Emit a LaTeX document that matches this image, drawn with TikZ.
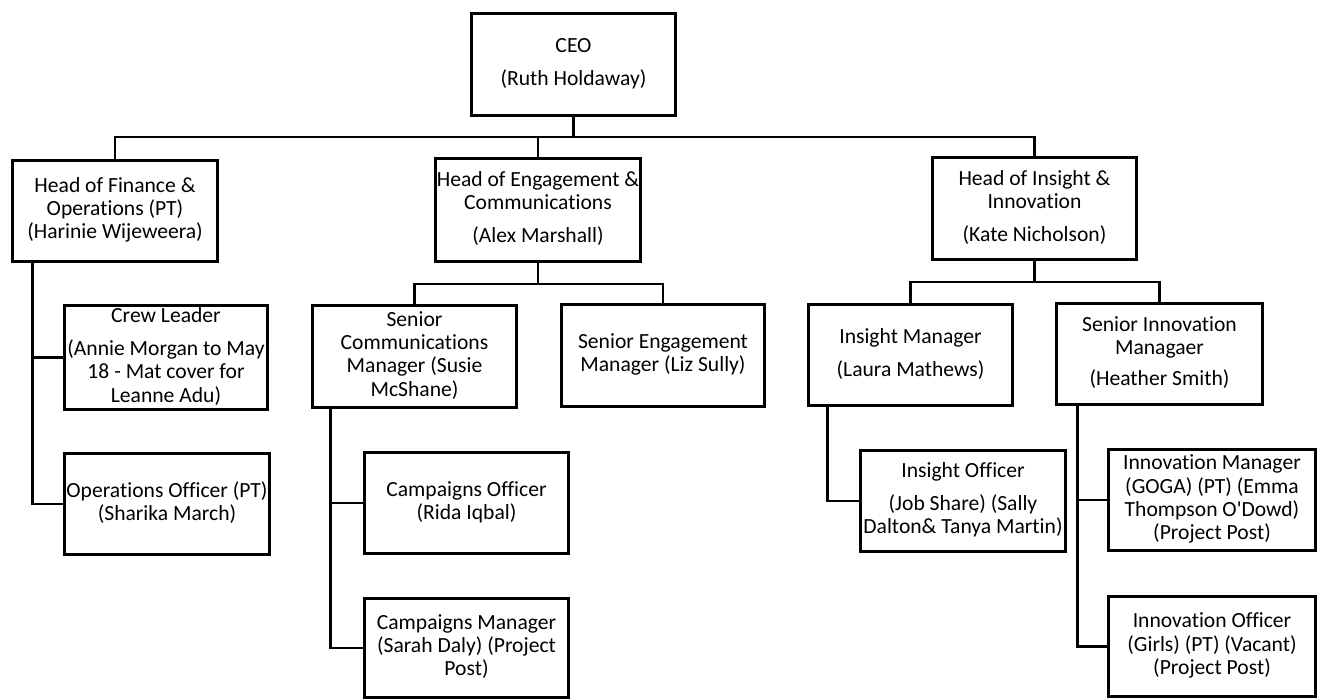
\documentclass[tikz,border=0pt]{standalone}
\usepackage{fontspec}
\setmainfont{Carlito}[Ligatures={NoCommon}]
\usetikzlibrary{calc}
\begin{document}
\begin{tikzpicture}[x=1pt,y=-1pt,
  box/.style={draw=black, line width=2.9pt, fill=white, inner sep=0pt, align=center,
    font=\fontsize{21.6}{23.3}\selectfont},
  conn/.style={draw=black, line width=2.9pt, line join=miter}]
\fill[white] (0,0) rectangle (1323,700);
\useasboundingbox (0,0) rectangle (1323,700);

% nodes
\node[box, minimum width=204.4pt, minimum height=102.4pt] (ceo) at (573.5,64.5)
  {\strut CEO\\[9.7pt]\strut (Ruth Holdaway)};
\node[box, minimum width=205.4pt, minimum height=101.4pt] (hfin) at (115,211)
  {\strut Head of Finance \&\\\strut Operations (PT)\\\strut (Harinie Wijeweera)};
\node[box, minimum width=205.4pt, minimum height=103.4pt] (heng) at (538,210)
  {\strut Head of Engagement \&\\\strut Communications\\[9.7pt]\strut (Alex Marshall)};
\node[box, minimum width=204.4pt, minimum height=102.4pt] (hins) at (1034.5,208.5)
  {\strut Head of Insight \&\\\strut Innovation\\[9.7pt]\strut (Kate Nicholson)};

\node[box, minimum width=203.4pt, minimum height=102.4pt] (crew) at (166,357.5)
  {\strut Crew Leader\\[10pt]\strut (Annie Morgan to May\\\strut 18 - Mat cover for\\\strut Leanne Adu)};
\node[box, minimum width=205.4pt, minimum height=101.4pt] (ops) at (167,504)
  {\strut Operations Officer (PT)\\\strut (Sharika March)};

\node[box, minimum width=204.4pt, minimum height=102.4pt] (scom) at (414.5,356.5)
  {\strut Senior\\\strut Communications\\\strut Manager (Susie\\\strut McShane)};
\node[box, minimum width=203.4pt, minimum height=102.4pt] (seng) at (663,355.5)
  {\strut Senior Engagement\\\strut Manager (Liz Sully)};
\node[box, minimum width=204.4pt, minimum height=101.4pt] (cof) at (466.5,503)
  {\strut Campaigns Officer\\\strut (Rida Iqbal)};
\node[box, minimum width=204.4pt, minimum height=98.4pt] (cman) at (466.5,648)
  {\strut Campaigns Manager\\\strut (Sarah Daly) (Project\\\strut Post)};

\node[box, minimum width=204.4pt, minimum height=101.4pt] (iman) at (910.5,355)
  {\strut Insight Manager\\[9.7pt]\strut (Laura Mathews)};
\node[box, minimum width=206.4pt, minimum height=101.4pt] (sinn) at (1159.5,354)
  {\strut Senior Innovation\\\strut Managaer\\[8pt]\strut (Heather Smith)};
\node[box, minimum width=205.4pt, minimum height=101.4pt] (iof) at (963,501)
  {\strut Insight Officer\\[9pt]\strut (Job Share) (Sally\\\strut Dalton\& Tanya Martin)};
\node[box, minimum width=207.4pt, minimum height=101.4pt] (innm) at (1212,500)
  {\strut Innovation Manager\\\strut (GOGA) (PT) (Emma\\\strut Thompson O\textquotesingle Dowd)\\\strut (Project Post)};
\node[box, minimum width=207.4pt, minimum height=100.4pt] (inno) at (1212,646.5)
  {\strut Innovation Officer\\\strut (Girls) (PT) (Vacant)\\\strut (Project Post)};

% connectors: top level
\coordinate (bus) at (574,137);
\draw[conn] (ceo.south) -- (ceo.south |- bus);
\draw[conn] (hfin.north) -- (hfin.north |- bus) -- (hins.north |- bus) -- (hins.north);
\draw[conn] (heng.north) -- (heng.north |- bus);

% engagement
\coordinate (ebus) at (538,284);
\draw[conn] (heng.south) -- (heng.south |- ebus);
\draw[conn] (scom.north) -- (scom.north |- ebus) -- (seng.north |- ebus) -- (seng.north);

% insight
\coordinate (ibus) at (1034,282);
\draw[conn] (hins.south) -- (hins.south |- ibus);
\draw[conn] (iman.north) -- (iman.north |- ibus) -- (sinn.north |- ibus) -- (sinn.north);

% finance stem
\coordinate (fstem) at ($(hfin.south west)+(21.5,0)$);
\draw[conn] (fstem) |- (ops.west);
\draw[conn] (fstem |- crew.west) -- (crew.west);

% comms stem
\coordinate (cstem) at ($(scom.south west)+(20,0)$);
\draw[conn] (cstem) |- (cman.west);
\draw[conn] (cstem |- cof.west) -- (cof.west);

% insight manager stem
\coordinate (istem) at ($(iman.south west)+(21,0)$);
\draw[conn] (istem) |- (iof.west);

% senior innovation stem
\coordinate (sstem) at ($(sinn.south west)+(23,0)$);
\draw[conn] (sstem) |- (inno.west);
\draw[conn] (sstem |- innm.west) -- (innm.west);
\end{tikzpicture}
\end{document}
